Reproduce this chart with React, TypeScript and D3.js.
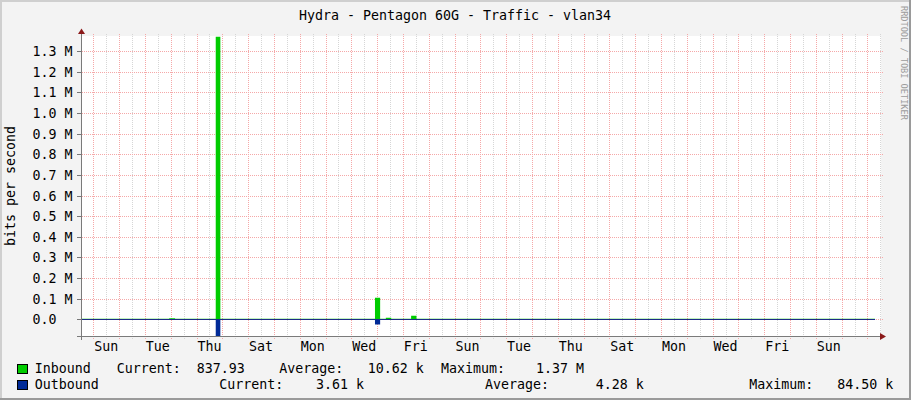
import React from "react";
import * as d3 from "d3";

const W = 911;
const H = 400;
const TITLE = "Hydra - Pentagon 60G - Traffic - vlan34";
const Y_LABEL = "bits per second";
const WATERMARK = "RRDTOOL / TOBI OETIKER";

// time window: 31 days starting Saturday 12:34 UTC
const START = Date.UTC(2024, 0, 6, 12, 34);
const SPAN_DAYS = 31;

// data: hours since start (step after), bits per second
const sampleHours = [0, 82, 87.5, 125.3, 129.6, 273.4, 278.2, 283.5, 288.5, 307, 312, 738.5];
const inbound = [2200, 5000, 2200, 1370000, 2200, 105000, 2200, 7000, 2200, 17000, 2200, 838];
const outbound = [3400, 3400, 3400, 84500, 3400, 25000, 3400, 3400, 3400, 3400, 3400, 3610];

const yTicks = [0, 100e3, 200e3, 300e3, 400e3, 500e3, 600e3, 700e3, 800e3, 900e3, 1.0e6, 1.1e6, 1.2e6, 1.3e6];
const yTickLabels = ["0.0", "0.1 M", "0.2 M", "0.3 M", "0.4 M", "0.5 M", "0.6 M", "0.7 M", "0.8 M", "0.9 M", "1.0 M", "1.1 M", "1.2 M", "1.3 M"];

const legendRows = [
  { name: "Inbound", color: "#00CC00", cur: "837.93", avg: "10.62 k", max: "1.37 M" },
  { name: "Outbound", color: "#002A97", cur: "3.61 k", avg: "4.28 k", max: "84.50 k" },
];

const FONT = "'DejaVu Sans Mono', monospace";

export default function App() {
  const x0 = 81, x1 = 881, yTop = 36, yBot = 336;
  const start = new Date(START);
  const end = new Date(START + SPAN_DAYS * 864e5);
  const x = d3.scaleUtc().domain([start, end]).range([x0, x1]);
  const y = d3.scaleLinear().domain([-81e3, 1.374e6]).range([yBot, yTop]);

  const pts = sampleHours.map((h, i) => ({
    t: new Date(START + h * 36e5),
    inb: inbound[i],
    out: outbound[i],
  }));

  const areaIn = d3.area<any>().curve(d3.curveStepAfter).x((d) => x(d.t)).y0(y(0)).y1((d) => y(d.inb));
  const areaOut = d3.area<any>().curve(d3.curveStepAfter).x((d) => x(d.t)).y0(y(0)).y1((d) => y(-d.out));

  const majors = d3.utcDay.range(start, end);
  const minors = d3.utcHour.every(12)!.range(start, end).filter((d) => d.getUTCHours() === 12);
  const firstSun = d3.utcSunday.ceil(start);
  const labelDays = d3.utcDay.every(1)!.range(firstSun, end)
    .filter((d, i) => i % 2 === 0)
    .map((d) => new Date(+d + 12 * 36e5))
    .filter((d) => x(d) < x1 - 30);
  const dayFmt = d3.utcFormat("%a");
  const lastT = pts[pts.length - 1].t;

  return (
    <svg width={W} height={H} style={{ position: "absolute", left: 0, top: 0 }} fontFamily={FONT}>
      <defs>
        <clipPath id="plot">
          <rect x={x0} y={yTop} width={x1 - x0} height={yBot - yTop} />
        </clipPath>
      </defs>
      <rect x={0} y={0} width={W} height={H} fill="#F3F3F3" />
      <g shapeRendering="crispEdges">
        <rect x={0} y={0} width={W} height={2} fill="#CFCFCF" />
        <rect x={0} y={0} width={2} height={H} fill="#CFCFCF" />
        <rect x={0} y={H - 2} width={W} height={2} fill="#9A9A9A" />
        <rect x={W - 2} y={0} width={2} height={H} fill="#9A9A9A" />
        <rect x={x0} y={yTop} width={x1 - x0} height={yBot - yTop} fill="#FFFFFF" />
      </g>

      <text x={455} y={19.5} textAnchor="middle" fontSize={13.3} fill="#000">{TITLE}</text>
      <text transform="translate(14.5,186) rotate(-90)" textAnchor="middle" fontSize={13.3} fill="#000">{Y_LABEL}</text>
      <text transform="translate(900.5,6) rotate(90)" fontSize={8.6} fill="#9C9C9C">{WATERMARK}</text>

      <g shapeRendering="crispEdges" strokeWidth={1}>
        {minors.map((d, i) => (
          <line key={"mi" + i} x1={Math.round(x(d)) + 0.5} x2={Math.round(x(d)) + 0.5} y1={34} y2={339} stroke="#D6D6D6" strokeDasharray="1,1" />
        ))}
        {majors.map((d, i) => (
          <line key={"ma" + i} x1={Math.round(x(d)) + 0.5} x2={Math.round(x(d)) + 0.5} y1={34} y2={339} stroke="#F5A8A8" strokeDasharray="1,1" />
        ))}
        {yTicks.map((v, i) => (
          <line key={"yg" + i} x1={78} x2={884} y1={Math.round(y(v)) + 0.5} y2={Math.round(y(v)) + 0.5} stroke="#F5A8A8" strokeDasharray="1,1" />
        ))}
      </g>

      <g clipPath="url(#plot)">
        <path d={areaIn(pts) || ""} fill="#00CC00" />
        <path d={areaOut(pts) || ""} fill="#002A97" />
        <line x1={x0} x2={x(lastT)} y1={Math.round(y(0)) + 0.5} y2={Math.round(y(0)) + 0.5} stroke="#1C2C86" strokeWidth={1} shapeRendering="crispEdges" />
      </g>

      <g shapeRendering="crispEdges">
        {yTicks.map((v, i) => (
          <line key={"yt" + i} x1={77} x2={81} y1={Math.round(y(v)) + 0.5} y2={Math.round(y(v)) + 0.5} stroke="#777" />
        ))}
        <line x1={x0 + 0.5} x2={x0 + 0.5} y1={31} y2={340} stroke="#7A7A7A" />
        <line x1={77} x2={882} y1={yBot + 0.5} y2={yBot + 0.5} stroke="#7A7A7A" />
      </g>
      <path d={`M${x0 - 3},${34} L${x0 + 0.5},${28.5} L${x0 + 4},${34} Z`} fill="#8B1A1A" />
      <path d={`M${880},${yBot - 3} L${886},${yBot + 0.5} L${880},${yBot + 4} Z`} fill="#8B1A1A" />

      {yTicks.map((v, i) => (
        <text key={"yl" + i} x={32.5} y={Math.round(y(v)) + 4.8} fontSize={13.3} fill="#000">{yTickLabels[i]}</text>
      ))}
      {labelDays.map((d, i) => (
        <text key={"xl" + i} x={x(d)} y={350.5} textAnchor="middle" fontSize={13.3} fill="#000">{dayFmt(d)}</text>
      ))}

      {legendRows.map((r, i) => {
        const by = 372.5 + i * 16;
        const pos = i === 0
          ? { cur: 116.7, curV: 196.7, avg: 279.3, avgV: 367.7, max: 441, maxV: 536 }
          : { cur: 219.3, curV: 316, avg: 485, avgV: 595.7, max: 749.3, maxV: 837.3 };
        return (
          <g key={"lg" + i} fontSize={13.3} fill="#000">
            <rect x={17.5} y={by - 8.5} width={10} height={9} fill={r.color} stroke="#000" strokeWidth={1} shapeRendering="crispEdges" />
            <text x={34.7} y={by}>{r.name}</text>
            <text x={pos.cur} y={by}>Current:</text>
            <text x={pos.curV} y={by}>{r.cur}</text>
            <text x={pos.avg} y={by}>Average:</text>
            <text x={pos.avgV} y={by}>{r.avg}</text>
            <text x={pos.max} y={by}>Maximum:</text>
            <text x={pos.maxV} y={by}>{r.max}</text>
          </g>
        );
      })}
    </svg>
  );
}
